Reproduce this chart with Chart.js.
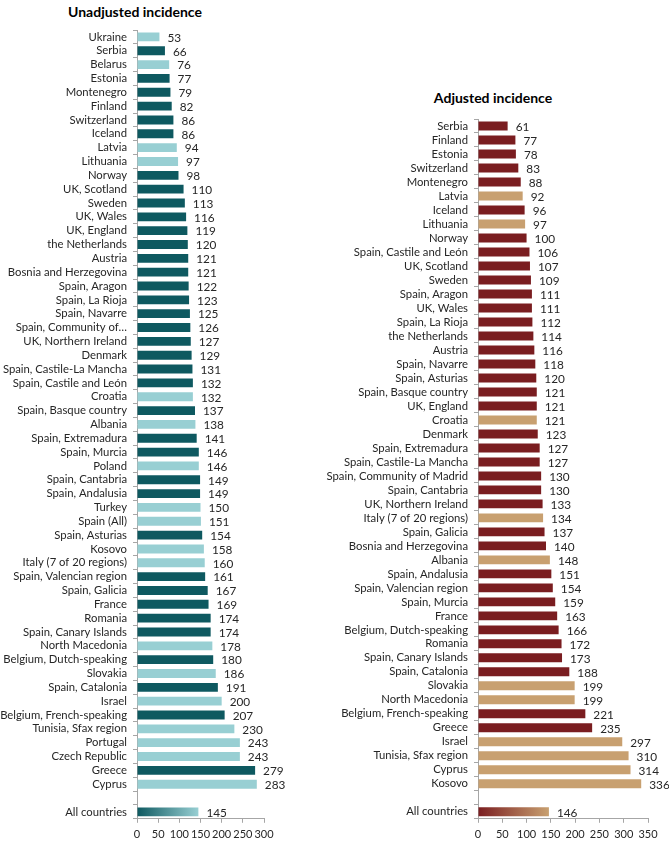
<!DOCTYPE html>
<html>
<head>
<meta charset="utf-8">
<script src="https://cdn.jsdelivr.net/npm/chart.js@4"></script>
<style>
  body { margin: 0; background: #fff; }
  #wrap { position: relative; width: 669px; height: 848px; font-family: Lato, sans-serif; }
  .title { position: absolute; font-weight: bold; font-size: 14px; color: #000; white-space: nowrap; transform: translate(-50%, -50%); }
  #c1 { position: absolute; left: 0; top: 0; }
  #c2 { position: absolute; left: 300px; top: 0; }
</style>
</head>
<body>
<div id="wrap">
  <div class="title" style="left:135px; top:11px;">Unadjusted incidence</div>
  <div class="title" style="left:493px; top:97px;">Adjusted incidence</div>
  <canvas id="c1" width="290" height="848"></canvas>
  <canvas id="c2" width="369" height="848"></canvas>
</div>
<script>
// data
const unadjLabels = ['Ukraine','Serbia','Belarus','Estonia','Montenegro','Finland','Switzerland','Iceland','Latvia','Lithuania','Norway','UK, Scotland','Sweden','UK, Wales','UK, England','the Netherlands','Austria','Bosnia and Herzegovina','Spain, Aragon','Spain, La Rioja','Spain, Navarre','Spain, Community of…','UK, Northern Ireland','Denmark','Spain, Castile-La Mancha','Spain, Castile and León','Croatia','Spain, Basque country','Albania','Spain, Extremadura','Spain, Murcia','Poland','Spain, Cantabria','Spain, Andalusia','Turkey','Spain (All)','Spain, Asturias','Kosovo','Italy (7 of 20 regions)','Spain, Valencian region','Spain, Galicia','France','Romania','Spain, Canary Islands','North Macedonia','Belgium, Dutch-speaking','Slovakia','Spain, Catalonia','Israel','Belgium, French-speaking','Tunisia, Sfax region','Portugal','Czech Republic','Greece','Cyprus','','All countries'];
const unadjValues = [53,66,76,77,79,82,86,86,94,97,98,110,113,116,119,120,121,121,122,123,125,126,127,129,131,132,132,137,138,141,146,146,149,149,150,151,154,158,160,161,167,169,174,174,178,180,186,191,200,207,230,243,243,279,283,null,145];
const unadjOther = ['Ukraine','Belarus','Latvia','Lithuania','Croatia','Albania','Poland','Turkey','Spain (All)','Kosovo','Italy (7 of 20 regions)','North Macedonia','Slovakia','Israel','Tunisia, Sfax region','Portugal','Czech Republic','Cyprus'];
const unadjTicks = [0,50,100,150,200,250,300];

const adjLabels = ['Serbia','Finland','Estonia','Switzerland','Montenegro','Latvia','Iceland','Lithuania','Norway','Spain, Castile and León','UK, Scotland','Sweden','Spain, Aragon','UK, Wales','Spain, La Rioja','the Netherlands','Austria','Spain, Navarre','Spain, Asturias','Spain, Basque country','UK, England','Croatia','Denmark','Spain, Extremadura','Spain, Castile-La Mancha','Spain, Community of Madrid','Spain, Cantabria','UK, Northern Ireland','Italy (7 of 20 regions)','Spain, Galicia','Bosnia and Herzegovina','Albania','Spain, Andalusia','Spain, Valencian region','Spain, Murcia','France','Belgium, Dutch-speaking','Romania','Spain, Canary Islands','Spain, Catalonia','Slovakia','North Macedonia','Belgium, French-speaking','Greece','Israel','Tunisia, Sfax region','Cyprus','Kosovo','','All countries'];
const adjValues = [61,77,78,83,88,92,96,97,100,106,107,109,111,111,112,114,116,118,120,121,121,121,123,127,127,130,130,133,134,137,140,148,151,154,159,163,166,172,173,188,199,199,221,235,297,310,314,336,null,146];
const adjOther = ['Latvia','Lithuania','Croatia','Italy (7 of 20 regions)','Albania','Slovakia','North Macedonia','Israel','Tunisia, Sfax region','Cyprus','Kosovo'];
const adjTicks = [0,50,100,150,200,250,300,350];

const FONT = 'Lato';
const FSIZE = 11.3;
const AXIS = '#a6a6a6';
const TEXT = '#262626';

// value labels right of bars
const valueLabels = {
    id: 'valueLabels',
    afterDatasetsDraw(chart){
        const ctx = chart.ctx;
        const ds = chart.data.datasets[0];
        const meta = chart.getDatasetMeta(0);
        ctx.save();
        ctx.font = '11.8px ' + FONT;
        ctx.fillStyle = TEXT;
        ctx.textBaseline = 'middle';
        ctx.textAlign = 'left';
        meta.data.forEach((bar, i)=>{
            if(ds.data[i] == null) return;
            ctx.fillText(ds.data[i], bar.x + 8, bar.y + 1);
        });
        ctx.restore();
    }
};

function makeChart(id, labels, values, other, ticks, dark, light, axisWidth, padTop, padRight){
    const max = ticks[ticks.length - 1];
    return new Chart(document.getElementById(id), {
        type: 'bar',
        data: {
            labels: labels,
            datasets: [{
                data: values,
                backgroundColor: (c)=>{
                    const lab = labels[c.dataIndex];
                    if(lab === 'All countries'){
                        const chart = c.chart;
                        if(!chart.chartArea) return light;
                        const x = chart.scales.x;
                        const g = chart.ctx.createLinearGradient(x.getPixelForValue(0), 0, x.getPixelForValue(values[c.dataIndex]), 0);
                        g.addColorStop(0, dark);
                        g.addColorStop(1, light);
                        return g;
                    }
                    return other.includes(lab) ? light : dark;
                },
                barPercentage: 0.64,
                categoryPercentage: 1
            }]
        },
        options: {
            indexAxis: 'y',
            responsive: false,
            animation: false,
            layout: { padding: { top: padTop, right: padRight, bottom: 2, left: 0 } },
            plugins: {
                legend: { display: false },
                tooltip: { enabled: false }
            },
            scales: {
                y: {
                    afterFit: (s)=>{ s.width = axisWidth; },
                    border: { color: AXIS, width: 1 },
                    grid: { drawOnChartArea: false, color: AXIS, tickLength: 4, offset: true },
                    ticks: { autoSkip: false, padding: 6, color: TEXT, font: { family: FONT, size: FSIZE } }
                },
                x: {
                    min: 0,
                    max: max,
                    afterBuildTicks: (s)=>{ s.ticks = ticks.map(v=>({value: v})); },
                    border: { color: AXIS, width: 1 },
                    grid: { drawOnChartArea: false, color: AXIS, tickLength: 4 },
                    ticks: { autoSkip: false, padding: 5, maxRotation: 0, color: TEXT, font: { family: FONT, size: 11 } }
                }
            }
        },
        plugins: [valueLabels]
    });
}

makeChart('c1', unadjLabels, unadjValues, unadjOther, unadjTicks, '#0e5960', '#98cfd3', 137, 30, 26);
makeChart('c2', adjLabels, adjValues, adjOther, adjTicks, '#7a1d20', '#c8a070', 178, 119, 21);
</script>
</body>
</html>
